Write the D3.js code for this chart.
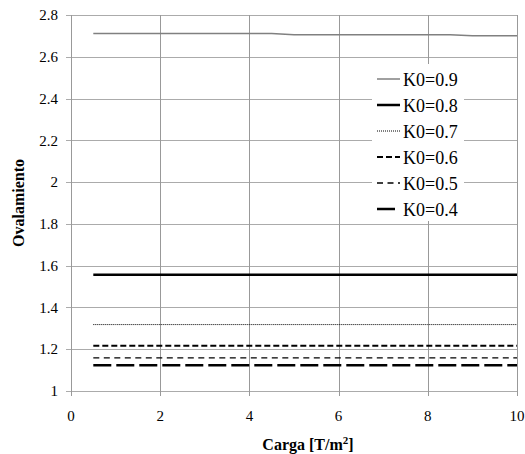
<!DOCTYPE html>
<html>
<head>
<meta charset="utf-8">
<script src="https://cdn.jsdelivr.net/npm/d3@7"></script>
<style>
  body { margin: 0; background: #fff; }
  svg { display: block; }
  svg text { font-family: "Liberation Serif", "Times New Roman", serif; }
</style>
</head>
<body>
<svg width="525" height="454"></svg>
<script>
// datos
var carga = [0.5, 1, 2, 3, 4, 4.5, 5, 6, 7, 8, 8.5, 9, 10];
var k09 = [2.712, 2.712, 2.712, 2.712, 2.712, 2.712, 2.706, 2.706, 2.706, 2.706, 2.706, 2.701, 2.701];
var k08 = [1.556, 1.556, 1.556, 1.556, 1.556, 1.556, 1.556, 1.556, 1.556, 1.556, 1.556, 1.556, 1.556];
var k07 = [1.318, 1.318, 1.318, 1.318, 1.318, 1.318, 1.318, 1.318, 1.318, 1.318, 1.318, 1.318, 1.318];
var k06 = [1.217, 1.217, 1.217, 1.217, 1.217, 1.217, 1.217, 1.217, 1.217, 1.217, 1.217, 1.217, 1.217];
var k05 = [1.159, 1.159, 1.159, 1.159, 1.159, 1.159, 1.159, 1.159, 1.159, 1.159, 1.159, 1.159, 1.159];
var k04 = [1.123, 1.123, 1.123, 1.123, 1.123, 1.123, 1.123, 1.123, 1.123, 1.123, 1.123, 1.123, 1.123];
var nombres = ["K0=0.9", "K0=0.8", "K0=0.7", "K0=0.6", "K0=0.5", "K0=0.4"];
var xTicks = [0, 2, 4, 6, 8, 10];
var yTicks = [1, 1.2, 1.4, 1.6, 1.8, 2, 2.2, 2.4, 2.6, 2.8];

var estilos = [
  { color: "#808080", w: 1.5, dash: null },
  { color: "#000", w: 2.5, dash: null },
  { color: "#000", w: 1, dash: "1,1" },
  { color: "#000", w: 2, dash: "6,3" },
  { color: "#000", w: 1.3, dash: "6,4.5" },
  { color: "#000", w: 2.5, dash: "18,5" }
];
var series = [k09, k08, k07, k06, k05, k04];

var svg = d3.select("svg"),
  margin = { top: 15, right: 8, bottom: 63, left: 71 },
  width = +svg.attr("width") - margin.left - margin.right,
  height = +svg.attr("height") - margin.top - margin.bottom,
  g = svg.append("g").attr("transform", "translate(" + margin.left + "," + margin.top + ")");

var x = d3.scaleLinear().domain([0, 10]).range([0, width]);
var y = d3.scaleLinear().domain([1, 2.8]).range([height, 0]);

// rejilla horizontal
g.append("g")
  .selectAll("line")
  .data(yTicks)
  .enter().append("line")
  .attr("x1", -5).attr("x2", width)
  .attr("y1", function (d) { return Math.round(y(d)) + 0.5; })
  .attr("y2", function (d) { return Math.round(y(d)) + 0.5; })
  .attr("stroke", "#ababab");

// rejilla vertical
g.append("g")
  .selectAll("line")
  .data(xTicks)
  .enter().append("line")
  .attr("y1", 0).attr("y2", height + 5)
  .attr("x1", function (d) { return Math.round(x(d)) + 0.5; })
  .attr("x2", function (d) { return Math.round(x(d)) + 0.5; })
  .attr("stroke", "#999");

// etiquetas de ejes
g.append("g")
  .selectAll("text")
  .data(yTicks)
  .enter().append("text")
  .attr("x", -13)
  .attr("y", function (d) { return y(d); })
  .attr("dy", "0.35em")
  .attr("text-anchor", "end")
  .attr("font-size", 15)
  .text(function (d) { return d3.format("")(d); });

g.append("g")
  .selectAll("text")
  .data(xTicks)
  .enter().append("text")
  .attr("x", function (d) { return x(d); })
  .attr("y", height + 30)
  .attr("text-anchor", "middle")
  .attr("font-size", 15)
  .text(function (d) { return d; });

var line = d3.line()
  .x(function (d, i) { return x(carga[i]); })
  .y(function (d) { return y(d); });

series.forEach(function (s, i) {
  var p = g.append("path")
    .datum(s)
    .attr("fill", "none")
    .attr("stroke", estilos[i].color)
    .attr("stroke-width", estilos[i].w)
    .attr("d", line);
  if (estilos[i].dash) p.attr("stroke-dasharray", estilos[i].dash);
});

// leyenda
var leg = svg.append("g");
leg.append("rect")
  .attr("x", 372).attr("y", 64)
  .attr("width", 92).attr("height", 157)
  .attr("fill", "#fff");
nombres.forEach(function (n, i) {
  var ly = 79 + i * 26;
  var l = leg.append("line")
    .attr("x1", 377).attr("x2", 400)
    .attr("y1", ly).attr("y2", ly)
    .attr("stroke", estilos[i].color)
    .attr("stroke-width", estilos[i].w);
  if (estilos[i].dash) l.attr("stroke-dasharray", estilos[i].dash);
  leg.append("text")
    .attr("x", 403)
    .attr("y", ly + 7)
    .attr("font-size", 18)
    .text(n);
});

// titulos
svg.append("text")
  .attr("x", 308)
  .attr("y", 450)
  .attr("text-anchor", "middle")
  .attr("font-size", 16)
  .attr("font-weight", "bold")
  .html("Carga [T/m<tspan dy='-6' font-size='11'>2</tspan><tspan dy='6'>]</tspan>");

svg.append("text")
  .attr("transform", "translate(24,203) rotate(-90)")
  .attr("text-anchor", "middle")
  .attr("font-size", 16)
  .attr("font-weight", "bold")
  .text("Ovalamiento");
</script>
</body>
</html>
